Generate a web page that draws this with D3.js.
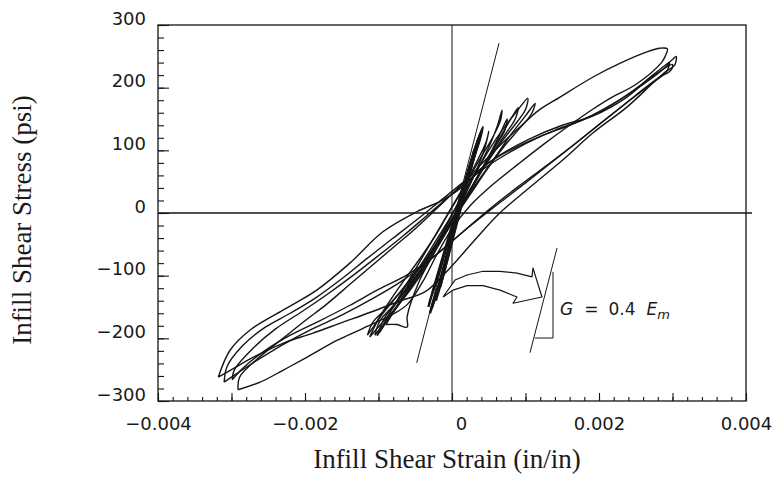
<!DOCTYPE html>
<html><head><meta charset="utf-8">
<script src="https://cdn.jsdelivr.net/npm/d3@7"></script>
<style>body{margin:0;background:#fff}</style>
</head><body>
<svg id="chart" width="779" height="497"></svg>
<script>
// ---- axes / ticks ----
const xDomain = [-0.004, 0.004];
const yDomain = [-300, 300];
const xMajorTicks = [-0.004, -0.003, -0.002, -0.001, 0, 0.001, 0.002, 0.003, 0.004];
const xLabelTicks = [-0.004, -0.002, 0, 0.002, 0.004];
const yMajorTicks = [-300, -200, -100, 0, 100, 200, 300];
const xTitle = "Infill Shear Strain (in/in)";
const yTitle = "Infill Shear Stress (psi)";

// ---- hysteresis loops [strain, stress] ----
const loopC1 = [[-0.00291,-282],[-0.00289,-262],[-0.00260,-228],[-0.00230,-200],[-0.00200,-172],[-0.00170,-145],[-0.00140,-115],[-0.00110,-85],[-0.00080,-55],[-0.00050,-25],[-0.00020,8],[0.00010,42],[0.00040,78],[0.00069,112],[0.00095,140],[0.00117,163],[0.00147,185],[0.00192,217],[0.00229,239],[0.00265,257],[0.00283,263],[0.00293,262],[0.00290,250],[0.00285,240],[0.00250,205],[0.00215,183],[0.00192,166],[0.00160,140],[0.00125,110],[0.00090,78],[0.00055,45],[0.00025,12],[0.00000,-25],[-0.00020,-65],[-0.00040,-110],[-0.00060,-145],[-0.00078,-160],[-0.00121,-184],[-0.00156,-203],[-0.00197,-230],[-0.00230,-251],[-0.00261,-270],[-0.00291,-282]];
const loopC2 = [[-0.00318,-262],[-0.00302,-219],[-0.00275,-187],[-0.00230,-155],[-0.00184,-123],[-0.00139,-80],[-0.00094,-30],[-0.00048,2],[-0.00012,21],[0.00018,45],[0.00038,69],[0.00069,95],[0.00105,118],[0.00150,140],[0.00192,155],[0.00238,185],[0.00273,220],[0.00300,245],[0.00305,250],[0.00303,236],[0.00290,225],[0.00273,207],[0.00238,169],[0.00192,128],[0.00151,85],[0.00106,41],[0.00065,0],[0.00031,-43],[-0.00003,-88],[-0.00037,-126],[-0.00070,-140],[-0.00110,-158],[-0.00150,-175],[-0.00190,-192],[-0.00230,-208],[-0.00270,-230],[-0.00300,-250],[-0.00318,-262]];
const loopC3 = [[-0.00299,-266],[-0.00296,-250],[-0.00270,-215],[-0.00240,-185],[-0.00205,-158],[-0.00170,-130],[-0.00135,-100],[-0.00100,-68],[-0.00065,-35],[-0.00030,0],[0.00005,35],[0.00040,68],[0.00080,98],[0.00120,122],[0.00160,140],[0.00200,160],[0.00240,190],[0.00275,220],[0.00300,237],[0.00298,228],[0.00280,215],[0.00250,188],[0.00215,155],[0.00180,122],[0.00140,85],[0.00100,48],[0.00060,12],[0.00020,-25],[-0.00020,-65],[-0.00060,-98],[-0.00100,-122],[-0.00140,-148],[-0.00180,-172],[-0.00220,-195],[-0.00255,-220],[-0.00285,-248],[-0.00299,-266]];
const loopC4 = [[-0.00310,-270],[-0.00306,-245],[-0.00285,-212],[-0.00255,-183],[-0.00220,-160],[-0.00185,-135],[-0.00150,-105],[-0.00115,-72],[-0.00080,-40],[-0.00045,-8],[-0.00010,25],[0.00025,58],[0.00060,88],[0.00100,112],[0.00140,132],[0.00180,150],[0.00220,175],[0.00260,205],[0.00290,232],[0.00296,240],[0.00292,226],[0.00270,205],[0.00240,178],[0.00205,146],[0.00170,113],[0.00130,77],[0.00090,42],[0.00050,5],[0.00010,-35],[-0.00030,-75],[-0.00070,-110],[-0.00110,-138],[-0.00150,-163],[-0.00190,-185],[-0.00230,-210],[-0.00265,-235],[-0.00295,-258],[-0.00310,-270]];
const loopB1 = [[-0.00112,-198],[-0.00100,-170],[-0.00080,-140],[-0.00055,-105],[-0.00030,-65],[-0.00010,-25],[0.00010,20],[0.00030,60],[0.00050,100],[0.00070,135],[0.00088,162],[0.00103,183],[0.00100,165],[0.00085,140],[0.00065,110],[0.00045,75],[0.00025,35],[0.00005,-5],[-0.00015,-45],[-0.00035,-85],[-0.00055,-120],[-0.00075,-150],[-0.00095,-175],[-0.00112,-198]];
const loopB2 = [[-0.00098,-190],[-0.00085,-160],[-0.00065,-125],[-0.00045,-88],[-0.00025,-50],[-0.00005,-12],[0.00015,28],[0.00035,70],[0.00052,110],[0.00062,140],[0.00068,164],[0.00066,148],[0.00055,120],[0.00040,90],[0.00020,50],[0.00000,10],[-0.00020,-30],[-0.00040,-70],[-0.00060,-110],[-0.00080,-150],[-0.00098,-190]];
const loopB3 = [[-0.00105,-195],[-0.00098,-172],[-0.00080,-148],[-0.00058,-115],[-0.00035,-78],[-0.00012,-35],[0.00012,10],[0.00035,50],[0.00058,88],[0.00080,125],[0.00100,155],[0.00113,175],[0.00108,158],[0.00092,135],[0.00070,105],[0.00048,70],[0.00025,30],[0.00002,-10],[-0.00022,-52],[-0.00045,-95],[-0.00065,-130],[-0.00085,-165],[-0.00105,-195]];
const loopB4 = [[-0.00090,-178],[-0.00075,-150],[-0.00055,-118],[-0.00035,-82],[-0.00015,-45],[0.00005,-5],[0.00025,38],[0.00045,80],[0.00065,120],[0.00080,150],[0.00090,168],[0.00086,150],[0.00072,125],[0.00055,95],[0.00035,58],[0.00015,18],[-0.00005,-22],[-0.00025,-65],[-0.00045,-110],[-0.00061,-165],[-0.00061,-182],[-0.00075,-178],[-0.00090,-178]];
const loopB5 = [[-0.00115,-195],[-0.00108,-175],[-0.00092,-155],[-0.00070,-125],[-0.00048,-92],[-0.00025,-55],[-0.00005,-18],[0.00015,22],[0.00032,65],[0.00045,105],[0.00050,130],[0.00046,112],[0.00035,85],[0.00018,45],[-0.00002,5],[-0.00022,-35],[-0.00045,-75],[-0.00068,-112],[-0.00090,-150],[-0.00105,-178],[-0.00115,-195]];
const loopB6 = [[-0.00102,-196],[-0.00092,-168],[-0.00075,-142],[-0.00055,-110],[-0.00032,-72],[-0.00010,-32],[0.00010,8],[0.00030,48],[0.00050,90],[0.00065,125],[0.00075,150],[0.00072,132],[0.00060,108],[0.00042,72],[0.00022,32],[0.00002,-8],[-0.00020,-50],[-0.00042,-92],[-0.00062,-128],[-0.00082,-162],[-0.00102,-196]];
const loopA1 = [[-0.00027,-150],[-0.00018,-115],[-0.00008,-70],[0.00002,-25],[0.00012,20],[0.00022,65],[0.00032,105],[0.00042,137],[0.00038,118],[0.00028,82],[0.00018,40],[0.00008,-5],[-0.00002,-50],[-0.00012,-92],[-0.00022,-130],[-0.00027,-150]];
const loopA2 = [[-0.00022,-140],[-0.00012,-100],[-0.00002,-55],[0.00008,-10],[0.00018,35],[0.00028,80],[0.00036,118],[0.00031,95],[0.00021,55],[0.00011,10],[0.00001,-35],[-0.00009,-80],[-0.00017,-115],[-0.00022,-140]];
const loopA3 = [[-0.00016,-118],[-0.00006,-72],[0.00004,-25],[0.00014,22],[0.00024,68],[0.00030,100],[0.00026,78],[0.00016,35],[0.00006,-12],[-0.00004,-58],[-0.00012,-95],[-0.00016,-118]];
const loopA4 = [[-0.00032,-150],[-0.00025,-120],[-0.00015,-80],[-0.00005,-40],[0.00005,0],[0.00015,40],[0.00025,80],[0.00035,115],[0.00040,130],[0.00030,95],[0.00020,55],[0.00010,15],[0.00000,-25],[-0.00010,-65],[-0.00020,-105],[-0.00030,-140],[-0.00032,-150]];
const loopA5 = [[-0.00030,-160],[-0.00020,-125],[-0.00010,-85],[0.00000,-40],[0.00010,5],[0.00020,50],[0.00030,95],[0.00038,125],[0.00035,108],[0.00025,70],[0.00015,28],[0.00005,-18],[-0.00005,-62],[-0.00015,-105],[-0.00025,-140],[-0.00030,-160]];

// ---- stiffness annotation ----
const gLine = [[-0.00048,-239],[0.00064,271]];
const gSlope = [[0.001061,-223],[0.001429,-56]];
const gTriangle = [[0.001129,-199.5],[0.001374,-199.5],[0.001374,-94]];
const arrowOutline = [[-0.000122,-134],[0.000041,-107],[0.000204,-99],[0.000422,-93],[0.000653,-93],[0.000884,-96],[0.001088,-102],[0.001102,-88],[0.001224,-134],[0.000830,-144],[0.000884,-134],[0.000653,-123],[0.000422,-116],[0.000204,-116],[0.000014,-123],[-0.000122,-134]];
const gLabelPos = [0.00147,-163];

// ---- drawing ----
const svg = d3.select("#chart");
const m = {left:158, right:746, top:25, bottom:401};
const x = d3.scaleLinear().domain(xDomain).range([m.left, m.right]);
const y = d3.scaleLinear().domain(yDomain).range([m.bottom, m.top]);
const ink = "#151515";

const line = d3.line().x(d=>x(d[0])).y(d=>y(d[1])).curve(d3.curveCatmullRom.alpha(0.5));
const lineLin = d3.line().x(d=>x(d[0])).y(d=>y(d[1]));

// frame
svg.append("rect").attr("x",m.left).attr("y",m.top)
  .attr("width",m.right-m.left).attr("height",m.bottom-m.top)
  .attr("fill","none").attr("stroke",ink).attr("stroke-width",1.3);

// zero lines
svg.append("line").attr("x1",x(xDomain[0])).attr("x2",x(xDomain[1])+6)
  .attr("y1",y(0)).attr("y2",y(0)).attr("stroke",ink).attr("stroke-width",1.3);
svg.append("line").attr("x1",x(0)).attr("x2",x(0))
  .attr("y1",y(yDomain[0])).attr("y2",y(yDomain[1])).attr("stroke",ink).attr("stroke-width",1);

// axes
const fmtX = d => d === 0 ? "0" : d3.format(".3f")(d);
const xMinor = d3.range(-0.004, 0.00401, 0.0002);
const yMinor = d3.range(-300, 301, 20);

const gxMinor = svg.append("g").attr("transform",`translate(0,${m.bottom})`)
  .call(d3.axisBottom(x).tickValues(xMinor).tickSize(-4).tickFormat(""));
const gxMajor = svg.append("g").attr("transform",`translate(0,${m.bottom})`)
  .call(d3.axisBottom(x).tickValues(xMajorTicks).tickSize(-8).tickFormat(""));
const gxLab = svg.append("g").attr("transform",`translate(0,${m.bottom})`)
  .call(d3.axisBottom(x).tickValues(xLabelTicks).tickSize(0).tickPadding(16).tickFormat(fmtX));
gxLab.selectAll("text").filter(d=>d===0).attr("dx",9);

const gyMinor = svg.append("g").attr("transform",`translate(${m.left},0)`)
  .call(d3.axisLeft(y).tickValues(yMinor).tickSize(-6).tickFormat(""));
const gyMajor = svg.append("g").attr("transform",`translate(${m.left},0)`)
  .call(d3.axisLeft(y).tickValues(yMajorTicks).tickSize(-11).tickPadding(12).tickFormat(d3.format("d")));
gyMajor.selectAll("text").attr("dy","-0.05em");

[gxMinor,gxMajor,gxLab,gyMinor,gyMajor].forEach(g=>{
  g.select(".domain").remove();
  g.selectAll("line").attr("stroke",ink).attr("stroke-width",1.1);
  g.selectAll("text").attr("fill","#1a1a1a")
    .style("font-family","'DejaVu Sans', sans-serif").style("font-size","18px");
});

// titles
svg.append("text").attr("x",447).attr("y",468).attr("text-anchor","middle")
  .style("font-family","'Liberation Serif', serif").style("font-size","27px").attr("fill","#1a1a1a")
  .text(xTitle);
svg.append("text").attr("transform","translate(31,220) rotate(-90)").attr("text-anchor","middle")
  .style("font-family","'Liberation Serif', serif").style("font-size","27px").attr("fill","#1a1a1a")
  .text(yTitle);

// loops
const plot = svg.append("g");
[loopC1, loopC2, loopC3, loopC4, loopB1, loopB2, loopB3, loopB4, loopB5, loopB6].forEach(l=>{
  plot.append("path").attr("d",line(l)).attr("fill","none").attr("stroke",ink).attr("stroke-width",1.4);
});
[loopA1, loopA2, loopA3, loopA4, loopA5].forEach(l=>{
  plot.append("path").attr("d",line(l)).attr("fill","none").attr("stroke",ink).attr("stroke-width",2.4);
});

// G line and annotation
plot.append("path").attr("d",lineLin(gLine)).attr("stroke",ink).attr("stroke-width",1);
plot.append("path").attr("d",lineLin(gSlope)).attr("stroke",ink).attr("stroke-width",1);
plot.append("path").attr("d",lineLin(gTriangle)).attr("fill","none").attr("stroke",ink).attr("stroke-width",1);
plot.append("path").attr("d",lineLin(arrowOutline)).attr("fill","#fff").attr("stroke",ink).attr("stroke-width",1.2).attr("stroke-linejoin","round");

const lbl = svg.append("text").attr("x",x(gLabelPos[0])).attr("y",y(gLabelPos[1]))
  .style("font-family","'DejaVu Sans', sans-serif").style("font-size","17px").attr("fill","#1a1a1a");
lbl.append("tspan").style("font-style","italic").text("G");
lbl.append("tspan").attr("dx",11).text("=");
lbl.append("tspan").attr("dx",10).text("0.4");
lbl.append("tspan").attr("dx",11).style("font-style","italic").text("E");
lbl.append("tspan").attr("dy",4).style("font-style","italic").style("font-size","13px").text("m");
</script>
</body></html>
